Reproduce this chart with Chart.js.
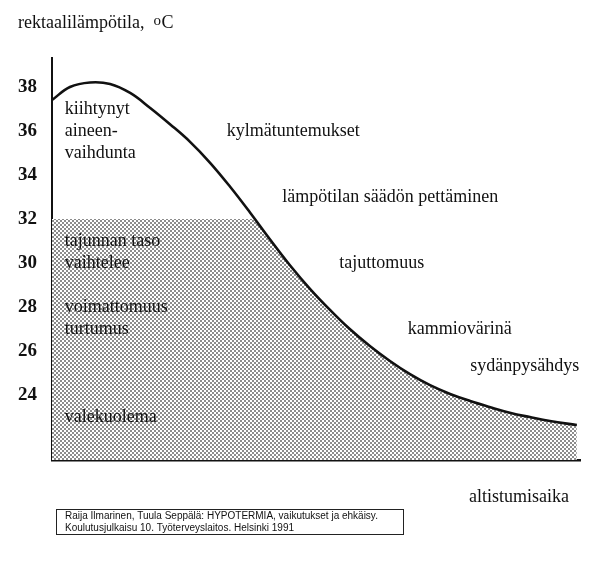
<!DOCTYPE html>
<html>
<head>
<meta charset="utf-8">
<script src="https://cdn.jsdelivr.net/npm/chart.js@4"></script>
<style>
  html, body { margin: 0; padding: 0; background: #fff; }
  #wrap { width: 602px; height: 564px; position: relative; }
</style>
</head>
<body>
<div id="wrap"><canvas id="c" width="602" height="564"></canvas></div>
<script>
// ---- data ----
const exposureTime = [0, 3.4, 7.2, 11.0, 14.8, 18.6, 22.4, 26.1, 29.9, 33.7, 37.5, 41.3, 45.1, 48.9, 52.7, 56.4, 60.2, 64.0, 67.8, 71.6, 75.4, 79.2, 83.0, 86.7, 90.5, 94.3, 99.4];
const rectalTemp   = [37.41, 38.0, 38.21, 38.14, 37.73, 37.05, 36.30, 35.52, 34.57, 33.48, 32.30, 31.07, 29.89, 28.82, 27.86, 27.0, 26.23, 25.55, 24.95, 24.45, 24.05, 23.73, 23.45, 23.2, 23.0, 22.82, 22.64];
const yTickValues  = [24, 26, 28, 30, 32, 34, 36, 38];
const shadeCeiling = 32;   // below this temperature the area is shaded

// symptom labels: text, exposure time (left edge), temperature
const labelTexts = ['kiihtynyt', 'aineen-', 'vaihdunta', 'tajunnan taso', 'vaihtelee', 'voimattomuus', 'turtumus', 'valekuolema',
                    'kylmätuntemukset', 'lämpötilan säädön pettäminen', 'tajuttomuus', 'kammiovärinä', 'sydänpysähdys'];
const labelTimes = [2.4, 2.4, 2.4, 2.4, 2.4, 2.4, 2.4, 2.4, 33.1, 43.6, 54.4, 67.4, 79.2];
const labelTemps = [37, 36, 35, 31, 30, 28, 27, 23, 36, 33, 30, 27, 25.3];

const yAxisTitle = 'rektaalilämpötila,';
const yAxisUnit = 'oC';
const xAxisTitle = 'altistumisaika';
const sourceLines = ['Raija Ilmarinen, Tuula Seppälä: HYPOTERMIA, vaikutukset ja ehkäisy.',
                     'Koulutusjulkaisu 10. Työterveyslaitos. Helsinki 1991'];

// ---- stipple pattern ----
function makePattern() {
  const t = document.createElement('canvas');
  t.width = 4; t.height = 4;
  const g = t.getContext('2d');
  g.fillStyle = '#ffffff'; g.fillRect(0, 0, 4, 4);
  g.fillStyle = '#8c8c8c';
  g.fillRect(0, 0, 2, 2);
  g.fillRect(2, 2, 2, 2);
  return g.createPattern(t, 'repeat');
}

const points = exposureTime.map((t, i) => ({ x: t, y: rectalTemp[i] }));
const SERIF = '"Liberation Serif", "Times New Roman", serif';

// clip shading dataset (index 1) to below shadeCeiling
const shadeClip = {
  id: 'shadeClip',
  beforeDatasetsDraw(chart) {
    const ctx = chart.ctx, a = chart.chartArea;
    const yTop = chart.scales.y.getPixelForValue(shadeCeiling);
    ctx.save();
    ctx.beginPath();
    ctx.rect(a.left, yTop, a.right - a.left, a.bottom - yTop);
    ctx.clip();
  },
  afterDatasetDraw(chart, args) {
    if (args.index === 1) chart.ctx.restore();
  }
};

const textPlugin = {
  id: 'texts',
  afterDraw(chart) {
    const ctx = chart.ctx, xs = chart.scales.x, ys = chart.scales.y;
    ctx.save();
    ctx.fillStyle = '#111';
    ctx.textBaseline = 'middle';
    ctx.textAlign = 'left';
    ctx.font = '18px ' + SERIF;
    labelTexts.forEach((txt, i) => {
      ctx.fillText(txt, xs.getPixelForValue(labelTimes[i]), ys.getPixelForValue(labelTemps[i]));
    });
    // axis titles
    ctx.textBaseline = 'alphabetic';
    ctx.fillText(yAxisTitle, 18, 28);
    const w = ctx.measureText(yAxisTitle).width;
    ctx.font = '15px ' + SERIF;
    ctx.fillText(yAxisUnit[0], 18 + w + 9, 25);
    ctx.font = '18px ' + SERIF;
    ctx.fillText(yAxisUnit.slice(1), 18 + w + 17, 28);
    ctx.textBaseline = 'middle';
    ctx.fillText(xAxisTitle, 469, 497);
    // source box
    ctx.strokeStyle = '#222';
    ctx.lineWidth = 1;
    ctx.strokeRect(56.5, 509.5, 347, 25);
    ctx.font = '10px "Liberation Sans", Arial, sans-serif';
    ctx.fillText(sourceLines[0], 65, 516);
    ctx.fillText(sourceLines[1], 65, 528);
    ctx.restore();
  }
};

new Chart(document.getElementById('c'), {
  type: 'line',
  data: {
    datasets: [
      {
        data: points,
        borderColor: '#111',
        borderWidth: 2.6,
        pointRadius: 0,
        tension: 0.4,
        fill: false
      },
      {
        data: points,
        borderWidth: 0,
        borderColor: 'rgba(0,0,0,0)',
        backgroundColor: makePattern(),
        pointRadius: 0,
        tension: 0.4,
        fill: 'start'
      }
    ]
  },
  options: {
    responsive: false,
    animation: false,
    events: [],
    layout: { padding: { top: 58, right: 22, bottom: 104, left: 0 } },
    plugins: { legend: { display: false }, tooltip: { enabled: false }, title: { display: false } },
    scales: {
      x: {
        type: 'linear', min: 0, max: 100,
        grid: { display: false, drawTicks: false },
        border: { display: true, color: '#111', width: 2.5 },
        ticks: { display: false },
        afterFit(s) { s.height = 0; }
      },
      y: {
        type: 'linear', min: 21.05, max: 39.32,
        grid: { display: false, drawTicks: false },
        border: { display: true, color: '#111', width: 2 },
        afterBuildTicks(s) { s.ticks = yTickValues.map(v => ({ value: v })); },
        afterFit(s) { s.width = 52; },
        ticks: {
          padding: 15,
          color: '#111',
          font: { family: SERIF, size: 19, weight: 'bold' },
          callback: v => String(v)
        }
      }
    }
  },
  plugins: [shadeClip, textPlugin]
});
</script>
</body>
</html>
